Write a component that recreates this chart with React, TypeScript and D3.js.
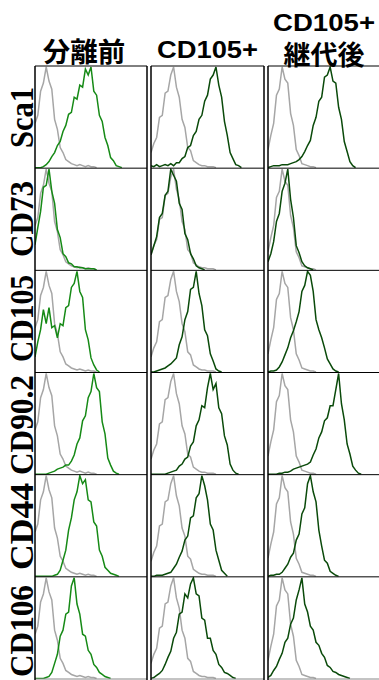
import * as d3 from "d3";

// column headers and row markers
const columns = ["分離前", "CD105+", "CD105+|継代後"];
const markers = ["Sca1", "CD73", "CD105", "CD90.2", "CD44", "CD106"];

// isotype control, one per column (% of max, bin step = 1/40 of the log axis)
const ctrl1 = [44, 52, 76, 84, 100, 86, 78, 48, 38, 20, 15, 8, 6, 4, 3, 2, 3, 2, 1, 2, 1, 1, 0];
const ctrl2 = [15, 24, 30, 50, 52, 74, 76, 92, 100, 80, 70, 48, 40, 20, 17, 7, 5, 3, 2, 2, 1, 1, 1, 0];
const ctrl3 = [18, 32, 44, 72, 78, 100, 88, 84, 54, 42, 18, 12, 4, 3, 2, 1, 1, 0];

// stained samples, column 1 (分離前)
const pre_Sca1 = [0, 0, 0, 1, 3, 6, 11, 15, 22, 26, 36, 42, 53, 55, 70, 68, 82, 80, 98, 92, 100, 76, 72, 52, 46, 30, 22, 10, 7, 2, 1, 0];
const pre_CD73 = [25, 42, 58, 82, 84, 100, 78, 66, 40, 32, 16, 13, 7, 6, 3, 3, 2, 2, 1, 1, 1, 1, 0];
const pre_CD105 = [15, 30, 42, 62, 48, 64, 44, 46, 34, 48, 46, 64, 66, 84, 88, 100, 80, 74, 42, 32, 14, 7, 2, 0];
const pre_CD902 = [0, 0, 0, 0, 0, 1, 2, 3, 5, 6, 7, 9, 9, 13, 19, 30, 36, 53, 58, 76, 82, 100, 86, 82, 52, 40, 16, 9, 3, 1, 0];
const pre_CD44 = [0, 0, 0, 0, 0, 0, 0, 1, 2, 6, 16, 26, 46, 58, 76, 84, 100, 92, 96, 76, 74, 54, 50, 26, 20, 9, 6, 3, 2, 1, 0];
const pre_CD106 = [0, 0, 0, 0, 1, 2, 6, 15, 24, 42, 48, 64, 66, 92, 100, 74, 64, 44, 42, 28, 24, 14, 11, 6, 4, 2, 1, 0];

// column 2 (CD105+)
const pos_Sca1 = [2, 1, 3, 1, 2, 3, 2, 4, 2, 5, 5, 9, 11, 20, 22, 32, 36, 48, 52, 66, 72, 88, 92, 100, 82, 70, 46, 32, 15, 9, 3, 2, 0];
const pos_CD73 = [15, 24, 33, 52, 56, 74, 78, 100, 94, 88, 66, 60, 36, 30, 16, 11, 4, 2, 1, 0];
const pos_CD105 = [0, 0, 1, 2, 3, 4, 6, 8, 11, 14, 27, 35, 52, 60, 82, 84, 100, 78, 66, 42, 36, 18, 11, 3, 1, 0];
const pos_CD902 = [0, 0, 0, 0, 0, 0, 1, 2, 3, 4, 8, 10, 15, 17, 28, 32, 48, 54, 68, 66, 86, 100, 84, 90, 66, 60, 38, 29, 10, 4, 1, 0];
const pos_CD44 = [0, 0, 1, 1, 1, 2, 3, 4, 8, 12, 19, 25, 36, 40, 58, 60, 78, 82, 100, 90, 76, 52, 46, 26, 16, 6, 3, 0];
const pos_CD106 = [0, 1, 3, 5, 8, 14, 21, 27, 40, 46, 64, 66, 84, 80, 94, 100, 84, 82, 60, 58, 40, 40, 28, 24, 14, 11, 6, 5, 3, 1, 0];

// column 3 (CD105+ 継代後)
const pas_Sca1 = [0, 1, 2, 2, 2, 3, 3, 3, 4, 5, 6, 8, 11, 16, 22, 27, 42, 50, 66, 70, 90, 92, 100, 86, 84, 60, 48, 26, 16, 6, 2, 0];
const pas_CD73 = [8, 16, 28, 48, 56, 78, 86, 100, 70, 52, 24, 17, 8, 4, 2, 1, 0];
const pas_CD105 = [0, 1, 1, 2, 5, 10, 17, 24, 34, 41, 50, 60, 80, 86, 100, 96, 80, 52, 42, 34, 24, 13, 8, 3, 1, 0];
const pas_CD902 = [0, 0, 0, 0, 1, 1, 2, 2, 3, 5, 6, 7, 8, 9, 10, 12, 19, 25, 36, 42, 53, 56, 68, 68, 84, 100, 70, 54, 30, 20, 8, 4, 1, 0];
const pas_CD44 = [0, 1, 1, 2, 2, 4, 8, 12, 19, 23, 36, 42, 62, 68, 92, 100, 84, 74, 46, 30, 16, 13, 5, 3, 1, 0];
const pas_CD106 = [1, 3, 8, 12, 19, 25, 36, 40, 54, 60, 78, 88, 100, 74, 66, 52, 48, 36, 33, 25, 21, 13, 11, 7, 6, 4, 3, 2, 1, 0];

const controls = [ctrl1, ctrl2, ctrl3];
const samples = [
  [pre_Sca1, pre_CD73, pre_CD105, pre_CD902, pre_CD44, pre_CD106],
  [pos_Sca1, pos_CD73, pos_CD105, pos_CD902, pos_CD44, pos_CD106],
  [pas_Sca1, pas_CD73, pas_CD105, pas_CD902, pas_CD44, pas_CD106],
];

const W = 379;
const H = 680;
const colLeft = [35, 151, 268];
const colW = [112, 113, 113];
const rowTop = 66;
const rowBottom = 679;
const bins = 40;
const greens = ["#168a16", "#0a4a0a", "#0a4a0a"];
const greyC = "#a6a6a6";
// label geometry (centre y, length)
const labelPos = [
  [117.5, 61],
  [219, 76],
  [318.5, 87],
  [425, 100],
  [526.5, 87],
  [631, 92],
];

export default function App() {
  const rowY = d3.scaleLinear().domain([0, markers.length]).range([rowTop, rowBottom]);

  return (
    <svg width={W} height={H} style={{ position: "absolute", left: 0, top: 0, background: "#fff" }}>
      <defs>
        {columns.map((_, c) =>
          markers.map((_, r) => (
            <clipPath id={`cp-${c}-${r}`} key={`${c}-${r}`}>
              <rect x={colLeft[c]} y={rowY(r)} width={colW[c]} height={rowY(r + 1) - rowY(r)} />
            </clipPath>
          ))
        )}
      </defs>

      {/* column headers */}
      <text x={84} y={62} textAnchor="middle" fontFamily="Noto Sans CJK JP" fontWeight={700} fontSize={27.5} fill="#000">
        {columns[0]}
      </text>
      <text x={207.5} y={58} textAnchor="middle" fontFamily="Liberation Sans, Arial" fontWeight={700} fontSize={24}
        textLength={101} lengthAdjust="spacingAndGlyphs" fill="#000">
        {columns[1]}
      </text>
      <text x={324} y={31} textAnchor="middle" fontFamily="Liberation Sans, Arial" fontWeight={700} fontSize={23}
        textLength={102} lengthAdjust="spacingAndGlyphs" fill="#000">
        {columns[2].split("|")[0]}
      </text>
      <text x={324} y={65} textAnchor="middle" fontFamily="Noto Sans CJK JP" fontWeight={700} fontSize={27} fill="#000">
        {columns[2].split("|")[1]}
      </text>

      {/* row labels */}
      {markers.map((m, r) => (
        <text key={m} transform={`translate(33,${labelPos[r][0]}) rotate(-90)`} textAnchor="middle"
          fontFamily="Liberation Serif, Times New Roman" fontWeight={700} fontSize={33}
          textLength={labelPos[r][1]} lengthAdjust="spacingAndGlyphs" fill="#000">
          {m}
        </text>
      ))}

      {columns.map((_, c) => {
        const x = d3.scaleLinear().domain([0, bins]).range([colLeft[c], colLeft[c] + colW[c]]);
        return markers.map((_, r) => {
          const y0 = rowY(r);
          const y1 = rowY(r + 1);
          const y = d3.scaleLinear().domain([0, 100]).range([y1 - 0.5, y0 + 1]);
          const line = d3.line<number>().x((_, i) => x(i)).y((d) => y(d));
          return (
            <g key={`${c}-${r}`} clipPath={`url(#cp-${c}-${r})`}>
              <path d={line(controls[c]) ?? ""} fill="none" stroke={greyC} strokeWidth={1.5} strokeLinejoin="miter" />
              <path d={line(samples[c][r]) ?? ""} fill="none" stroke={greens[c]} strokeWidth={1.5} strokeLinejoin="miter" />
            </g>
          );
        });
      })}

      {/* frames */}
      {columns.map((_, c) => (
        <g key={`f${c}`}>
          {markers.map((_, r) =>
            r === 0 ? null : (
              <line key={r} x1={colLeft[c]} x2={colLeft[c] + colW[c]} y1={rowY(r)} y2={rowY(r)} stroke="#000" strokeWidth={1} />
            )
          )}
          <line x1={colLeft[c]} x2={colLeft[c] + colW[c]} y1={rowTop} y2={rowTop} stroke="#000" strokeWidth={1} />
          <line x1={colLeft[c]} x2={colLeft[c] + colW[c]} y1={rowBottom} y2={rowBottom} stroke="#888" strokeWidth={1} />
          <line x1={colLeft[c]} x2={colLeft[c]} y1={rowTop} y2={rowBottom + 1} stroke="#000" strokeWidth={1.5} />
          {c < 2 && (
            <line x1={colLeft[c] + colW[c]} x2={colLeft[c] + colW[c]} y1={rowTop} y2={rowBottom + 1} stroke="#000" strokeWidth={1.5} />
          )}
        </g>
      ))}
    </svg>
  );
}
